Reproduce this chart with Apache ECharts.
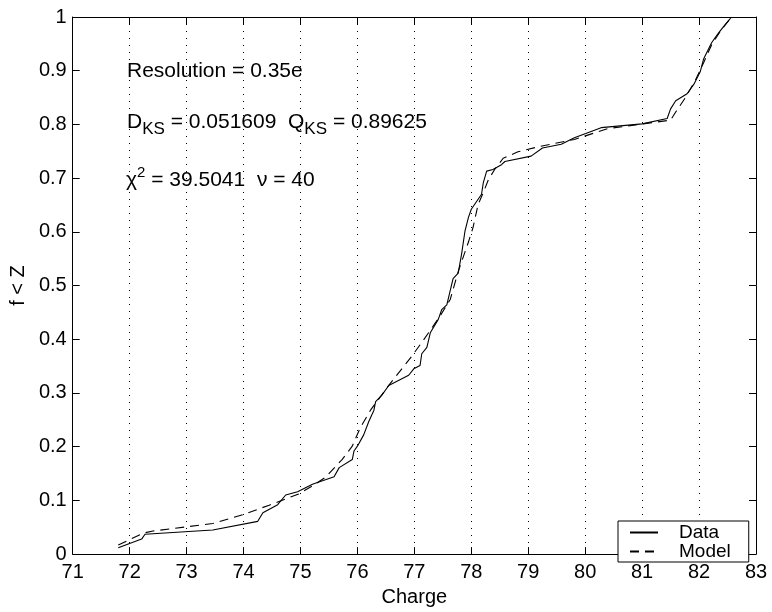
<!DOCTYPE html>
<html>
<head>
<meta charset="utf-8">
<script src="https://cdn.jsdelivr.net/npm/echarts@6/dist/echarts.min.js"></script>
<style>
html,body{margin:0;padding:0;background:#fff;}
#chart{width:772px;height:612px;}
</style>
</head>
<body>
<div id="chart"></div>
<script>
// ---- Data ----
var dataCharge = [71.80,72.21,72.27,73.46,74.25,74.34,74.60,74.74,74.95,75.21,75.59,75.68,75.91,75.94,76.00,76.11,76.20,76.29,76.32,76.43,76.55,76.90,76.99,77.10,77.13,77.22,77.28,77.42,77.48,77.57,77.68,77.77,77.83,77.89,77.95,78.00,78.18,78.21,78.27,78.38,78.53,78.59,79.05,79.25,79.58,79.81,80.01,80.28,81.00,81.44,81.50,81.59,81.79,81.91,82.02,82.08,82.22,82.34,82.43,82.57];
var dataFrac   = [0.012,0.028,0.037,0.045,0.061,0.077,0.092,0.110,0.116,0.130,0.144,0.161,0.176,0.192,0.201,0.222,0.247,0.268,0.284,0.296,0.314,0.333,0.345,0.351,0.373,0.385,0.412,0.437,0.455,0.464,0.513,0.523,0.559,0.602,0.627,0.642,0.670,0.691,0.713,0.716,0.725,0.731,0.741,0.756,0.763,0.775,0.783,0.794,0.801,0.811,0.829,0.844,0.857,0.875,0.898,0.922,0.952,0.970,0.982,1.000];

var modelCharge = [71.80,72.24,72.41,73.46,73.99,74.45,74.97,75.21,75.44,75.73,75.91,76.05,76.23,76.55,76.78,76.96,77.19,77.45,77.63,77.77,77.95,78.03,78.12,78.21,78.30,78.41,78.56,78.82,79.20,79.81,80.39,81.50,81.59,81.76,81.93,82.08,82.22,82.34,82.45,82.57];
var modelFrac   = [0.017,0.039,0.043,0.057,0.0735,0.091,0.112,0.127,0.143,0.176,0.201,0.235,0.268,0.314,0.345,0.369,0.403,0.443,0.474,0.526,0.581,0.608,0.651,0.673,0.697,0.716,0.737,0.749,0.759,0.772,0.792,0.808,0.823,0.850,0.881,0.915,0.948,0.968,0.984,1.000];

var xTicks = {min: 71, max: 83, step: 1};
var yTicks = {min: 0, max: 1, step: 0.1};
var seriesNames = ['Data', 'Model'];
var xAxisName = 'Charge';
var yAxisName = 'f < Z';
var annoResolution = 'Resolution = 0.35e';
var annoDks = '0.051609';
var annoQks = '0.89625';
var annoChi2 = '39.5041';
var annoNu = '40';

function zip(a, b) { var r = []; for (var i = 0; i < a.length; i++) r.push([a[i], b[i]]); return r; }

var FONT = '"Liberation Sans", Arial, Helvetica, sans-serif';
var chart = echarts.init(document.getElementById('chart'), null, {renderer: 'canvas'});

var axisLineStyle = {color: '#000', width: 1};
var richMain = {fontSize: 21, fontFamily: FONT, color: '#000', lineHeight: 30, verticalAlign: 'middle'};
var richSub = {fontSize: 17, fontFamily: FONT, color: '#000', lineHeight: 17, verticalAlign: 'bottom'};
var richSup = {fontSize: 15, fontFamily: FONT, color: '#000', lineHeight: 13, verticalAlign: 'top'};

var option = {
  backgroundColor: '#fff',
  animation: false,
  grid: {left: 69, right: 16, top: 17, bottom: 51, containLabel: false},
  xAxis: [{
    type: 'value', min: xTicks.min, max: xTicks.max, interval: xTicks.step, position: 'bottom',
    name: xAxisName, nameLocation: 'middle', nameGap: 26,
    nameTextStyle: {fontSize: 20, fontFamily: FONT, color: '#000'},
    axisLine: {show: true, onZero: false, lineStyle: axisLineStyle},
    axisTick: {show: true, inside: true, length: 7, lineStyle: axisLineStyle},
    axisLabel: {fontSize: 20, fontFamily: FONT, color: '#000', margin: 8},
    splitLine: {show: true, lineStyle: {color: '#000', width: 1, type: [1, 6]}}
  }, {
    type: 'value', min: xTicks.min, max: xTicks.max, interval: xTicks.step, position: 'top',
    axisLine: {show: true, onZero: false, lineStyle: axisLineStyle},
    axisTick: {show: true, inside: true, length: 7, lineStyle: axisLineStyle},
    axisLabel: {show: false}, splitLine: {show: false}
  }],
  yAxis: [{
    type: 'value', min: yTicks.min, max: yTicks.max, interval: yTicks.step, position: 'left',
    name: yAxisName, nameLocation: 'middle', nameGap: 41, nameRotate: 90,
    nameTextStyle: {fontSize: 20, fontFamily: FONT, color: '#000'},
    axisLine: {show: true, onZero: false, lineStyle: axisLineStyle},
    axisTick: {show: true, inside: true, length: 7, lineStyle: axisLineStyle},
    axisLabel: {fontSize: 20, fontFamily: FONT, color: '#000', margin: 6},
    splitLine: {show: false}
  }, {
    type: 'value', min: yTicks.min, max: yTicks.max, interval: yTicks.step, position: 'right',
    axisLine: {show: true, onZero: false, lineStyle: axisLineStyle},
    axisTick: {show: true, inside: true, length: 7, lineStyle: axisLineStyle},
    axisLabel: {show: false}, splitLine: {show: false}
  }],
  legend: {
    orient: 'vertical', left: 618, top: 521,
    data: seriesNames,
    backgroundColor: '#fff', borderColor: '#000', borderWidth: 1, borderRadius: 0,
    padding: [2, 18, 1, 11], itemGap: 0, itemWidth: 28, itemHeight: 14,
    itemStyle: {opacity: 0, borderWidth: 0},
    textStyle: {fontSize: 19, fontFamily: FONT, color: '#000', lineHeight: 14, padding: [0, 0, 0, 16]},
    selectedMode: false
  },
  series: [{
    name: seriesNames[0], type: 'line', xAxisIndex: 0, yAxisIndex: 0,
    data: zip(dataCharge, dataFrac), symbol: 'none', showSymbol: false,
    lineStyle: {color: '#000', width: 1.1, type: 'solid'}, itemStyle: {color: '#000'}, z: 3
  }, {
    name: seriesNames[1], type: 'line', xAxisIndex: 0, yAxisIndex: 0,
    data: zip(modelCharge, modelFrac), symbol: 'none', showSymbol: false,
    lineStyle: {color: '#000', width: 1.1, type: [9, 6]}, itemStyle: {color: '#000'}, z: 2
  }],
  graphic: [{
    type: 'text', x: 127, y: 71.6, silent: true,
    style: {text: '{m|' + annoResolution + '}', rich: {m: richMain}, verticalAlign: 'middle', align: 'left'}
  }, {
    type: 'text', x: 127, y: 122.6, silent: true,
    style: {
      text: '{m|D}{s|KS}{m| = ' + annoDks + '  Q}{s|KS}{m| = ' + annoQks + '}',
      rich: {m: richMain, s: richSub}, verticalAlign: 'middle', align: 'left'
    }
  }, {
    type: 'text', x: 126, y: 180.6, silent: true,
    style: {
      text: '{m|\u03C7}{p|2}{m| = ' + annoChi2 + '  \u03BD = ' + annoNu + '}',
      rich: {m: richMain, p: richSup}, verticalAlign: 'middle', align: 'left'
    }
  }]
};
chart.setOption(option);
</script>
</body>
</html>
